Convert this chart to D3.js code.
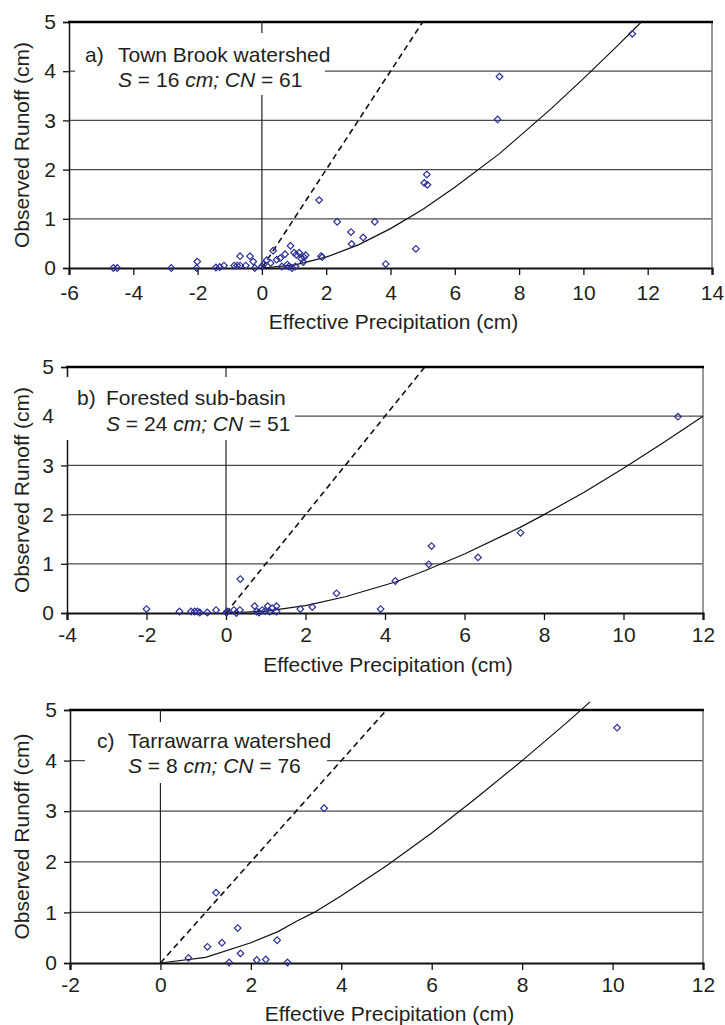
<!DOCTYPE html>
<html>
<head>
<meta charset="utf-8">
<script src="https://cdn.jsdelivr.net/npm/d3@7"></script>
<style>
  body { margin: 0; background: #fff; }
  svg text { font-family: "Liberation Sans", Arial, sans-serif; fill: #231f20; }
</style>
</head>
<body>
<svg id="chart"></svg>
<script>
// observed events [effective precipitation, observed runoff] in cm
const townBrookPoints = [
  [-4.62, 0], [-4.5, 0], [-2.82, 0], [-2.01, 0.13], [-2.03, 0],
  [-1.43, 0.01], [-1.31, 0.02], [-1.18, 0.05], [-0.86, 0.05], [-0.77, 0.05],
  [-0.68, 0.05], [-0.68, 0.24], [-0.5, 0.05], [-0.37, 0.24], [-0.27, 0.13],
  [-0.22, 0], [0.0, 0.03], [0.05, 0.07], [0.15, 0.16], [0.27, 0.1],
  [0.35, 0.35], [0.46, 0.17], [0.57, 0.2], [0.62, 0.03], [0.72, 0.28],
  [0.79, 0.07], [0.84, 0.03], [0.89, 0.45], [0.94, 0], [1.0, 0.31],
  [1.04, 0.03], [1.07, 0.27], [1.16, 0.31], [1.23, 0.19], [1.29, 0.12],
  [1.31, 0.22], [1.36, 0.26], [1.78, 1.38], [1.84, 0.24], [1.88, 0.22],
  [2.34, 0.94], [2.77, 0.73], [2.79, 0.49], [3.15, 0.62], [3.51, 0.94],
  [3.85, 0.08], [4.79, 0.39], [5.05, 1.73], [5.15, 1.69], [5.13, 1.9],
  [7.33, 3.02], [7.39, 3.89], [11.52, 4.76]
];
const forestedPoints = [
  [-2.0, 0.08], [-1.17, 0.03], [-0.88, 0.03], [-0.79, 0.03], [-0.72, 0.03],
  [-0.66, 0.01], [-0.47, 0.01], [-0.25, 0.06], [0.01, 0.01], [0.03, 0.03],
  [0.2, 0.06], [0.26, 0], [0.35, 0.06], [0.36, 0.69], [0.72, 0.14],
  [0.77, 0.03], [0.83, 0.01], [0.91, 0.06], [0.99, 0.04], [1.05, 0.14],
  [1.1, 0.03], [1.16, 0.1], [1.27, 0.14], [1.27, 0.03], [1.87, 0.08],
  [2.17, 0.12], [2.78, 0.4], [3.89, 0.08], [4.26, 0.65], [5.1, 0.99],
  [5.17, 1.36], [6.34, 1.13], [7.41, 1.63], [11.37, 3.99]
];
const tarrawarraPoints = [
  [0.62, 0.1], [1.04, 0.32], [1.23, 1.39], [1.36, 0.4], [1.52, 0.01],
  [1.71, 0.69], [1.77, 0.19], [2.13, 0.06], [2.33, 0.07], [2.58, 0.45],
  [2.81, 0.01], [3.62, 3.06], [10.1, 4.65]
];

// fitted SCS curves
const townBrookCurve = [
  [0, 0], [1, 0.06], [2, 0.22], [3, 0.47], [4, 0.8], [5, 1.19], [6, 1.64],
  [7.4, 2.33], [8, 2.67], [9, 3.24], [10, 3.85], [11, 4.48], [11.8, 5.0]
];
const forestedCurve = [
  [0, 0], [1, 0.04], [2, 0.15], [3, 0.33], [4.26, 0.63], [5, 0.86], [6, 1.2],
  [7.4, 1.74], [8, 2.0], [9, 2.45], [10, 2.94], [11, 3.46], [12, 4.0]
];
const tarrawarraCurve = [
  [0, 0], [1, 0.11], [2, 0.4], [2.6, 0.62], [3, 0.82], [3.4, 1.0], [4, 1.33],
  [5, 1.92], [6, 2.57], [7, 3.27], [8, 4.0], [9, 4.76], [9.5, 5.16]
];

// 1:1 line
const oneToOne = [[0, 0], [5, 5]];

const yTicks = [0, 1, 2, 3, 4, 5];
const townBrookXTicks = [-6, -4, -2, 0, 2, 4, 6, 8, 10, 12, 14];
const forestedXTicks = [-4, -2, 0, 2, 4, 6, 8, 10, 12];
const tarrawarraXTicks = [-2, 0, 2, 4, 6, 8, 10, 12];

const panelLabels = ["a)", "b)", "c)"];
const panelNames = ["Town Brook watershed", "Forested sub-basin", "Tarrawarra watershed"];
const sValues = ["16", "24", "8"];
const cnValues = ["61", "51", "76"];

const xLabel = "Effective Precipitation (cm)";
const yLabel = "Observed Runoff (cm)";

const width = 725, height = 1025;
const fontSize = 21;
const svg = d3.select("#chart").attr("width", width).attr("height", height);

const panels = [
  { points: townBrookPoints, curve: townBrookCurve, xTicks: townBrookXTicks,
    left: 69, right: 712, top: 22, bottom: 268, tickOff: 25, titleOff: 54,
    box: [75, 33, 250, 62], labX: 85, nameX: 118, line1: 62, line2: 87 },
  { points: forestedPoints, curve: forestedCurve, xTicks: forestedXTicks,
    left: 67, right: 703, top: 367, bottom: 613, tickOff: 22, titleOff: 52,
    box: [60, 377, 235, 63], labX: 77, nameX: 106, line1: 405, line2: 431 },
  { points: tarrawarraPoints, curve: tarrawarraCurve, xTicks: tarrawarraXTicks,
    left: 70, right: 703, top: 710, bottom: 963, tickOff: 22, titleOff: 51,
    box: [85, 722, 242, 61], labX: 97, nameX: 128, line1: 748, line2: 773 }
];

panels.forEach((p, i) => {
  const x = d3.scaleLinear()
    .domain(d3.extent(p.xTicks))
    .range([p.left, p.right]);
  const y = d3.scaleLinear()
    .domain([0, 5])
    .range([p.bottom, p.top]);

  const g = svg.append("g");

  // horizontal grid lines
  g.selectAll(".grid")
    .data([1, 2, 3, 4])
    .join("line")
    .attr("x1", p.left).attr("x2", p.right)
    .attr("y1", d => y(d)).attr("y2", d => y(d))
    .attr("stroke", "#4a4a4a")
    .attr("stroke-width", 1.3);

  // vertical line at zero
  g.append("line")
    .attr("x1", x(0)).attr("x2", x(0))
    .attr("y1", p.top).attr("y2", p.bottom)
    .attr("stroke", "#222")
    .attr("stroke-width", 1.2);

  // right border
  g.append("line")
    .attr("x1", p.right).attr("x2", p.right)
    .attr("y1", p.top).attr("y2", p.bottom)
    .attr("stroke", "#777")
    .attr("stroke-width", 1.5);

  // left axis
  const yAxis = d3.axisLeft(y).tickValues(yTicks).tickSize(6).tickFormat(d => String(d));
  const ya = g.append("g")
    .attr("transform", `translate(${p.left},0)`)
    .call(yAxis);
  ya.select(".domain").attr("stroke", "#111").attr("stroke-width", 1.5);
  ya.selectAll(".tick line").attr("stroke", "#111").attr("stroke-width", 1.3);
  ya.selectAll(".tick text")
    .attr("x", -13)
    .attr("font-size", fontSize)
    .attr("fill", "#231f20");

  // bottom axis
  const xAxis = d3.axisBottom(x).tickValues(p.xTicks).tickSize(7).tickFormat(d => String(d));
  const xa = g.append("g")
    .attr("transform", `translate(0,${p.bottom})`)
    .call(xAxis);
  xa.select(".domain").attr("stroke", "#111").attr("stroke-width", 2.2);
  xa.selectAll(".tick line").attr("stroke", "#111").attr("stroke-width", 1.3);
  xa.selectAll(".tick text")
    .attr("y", p.tickOff)
    .attr("dy", "0.35em")
    .attr("font-size", fontSize)
    .attr("fill", "#231f20");

  // top border
  g.append("line")
    .attr("x1", p.left - 1).attr("x2", p.right + 1)
    .attr("y1", p.top).attr("y2", p.top)
    .attr("stroke", "#000")
    .attr("stroke-width", 2.6);

  // axis titles
  g.append("text")
    .attr("x", (p.left + p.right) / 2 + 3)
    .attr("y", p.bottom + p.titleOff)
    .attr("dy", "0.35em")
    .attr("text-anchor", "middle")
    .attr("font-size", fontSize)
    .text(xLabel);

  g.append("text")
    .attr("transform", `translate(22,${(p.top + p.bottom) / 2}) rotate(-90)`)
    .attr("dy", "0.35em")
    .attr("text-anchor", "middle")
    .attr("font-size", fontSize)
    .text(yLabel);

  // annotation box
  g.append("rect")
    .attr("x", p.box[0]).attr("y", p.box[1])
    .attr("width", p.box[2]).attr("height", p.box[3])
    .attr("fill", "#fff");

  g.append("text")
    .attr("x", p.labX).attr("y", p.line1)
    .attr("font-size", fontSize)
    .text(panelLabels[i]);
  g.append("text")
    .attr("x", p.nameX).attr("y", p.line1)
    .attr("font-size", fontSize)
    .text(panelNames[i]);

  const t2 = g.append("text")
    .attr("x", p.nameX).attr("y", p.line2)
    .attr("font-size", fontSize);
  t2.append("tspan").attr("font-style", "italic").text("S");
  t2.append("tspan").text(` = ${sValues[i]} `);
  t2.append("tspan").attr("font-style", "italic").text("cm; CN");
  t2.append("tspan").text(` = ${cnValues[i]}`);

  const line = d3.line().x(d => x(d[0])).y(d => y(d[1]));

  // 1:1 dashed line
  g.append("path")
    .attr("d", line(oneToOne))
    .attr("fill", "none")
    .attr("stroke", "#111")
    .attr("stroke-width", 1.6)
    .attr("stroke-dasharray", "6,4");

  // fitted curve
  g.append("path")
    .attr("d", line(p.curve))
    .attr("fill", "none")
    .attr("stroke", "#111")
    .attr("stroke-width", 1.2);

  // observations
  const diamond = d3.symbol().type(d3.symbolSquare).size(22);
  g.selectAll(".pt")
    .data(p.points)
    .join("path")
    .attr("d", diamond)
    .attr("transform", d => `translate(${x(d[0])},${y(d[1])}) rotate(45)`)
    .attr("fill", "none")
    .attr("stroke", "#2b2f96")
    .attr("stroke-width", 1.2);
});
</script>
</body>
</html>
